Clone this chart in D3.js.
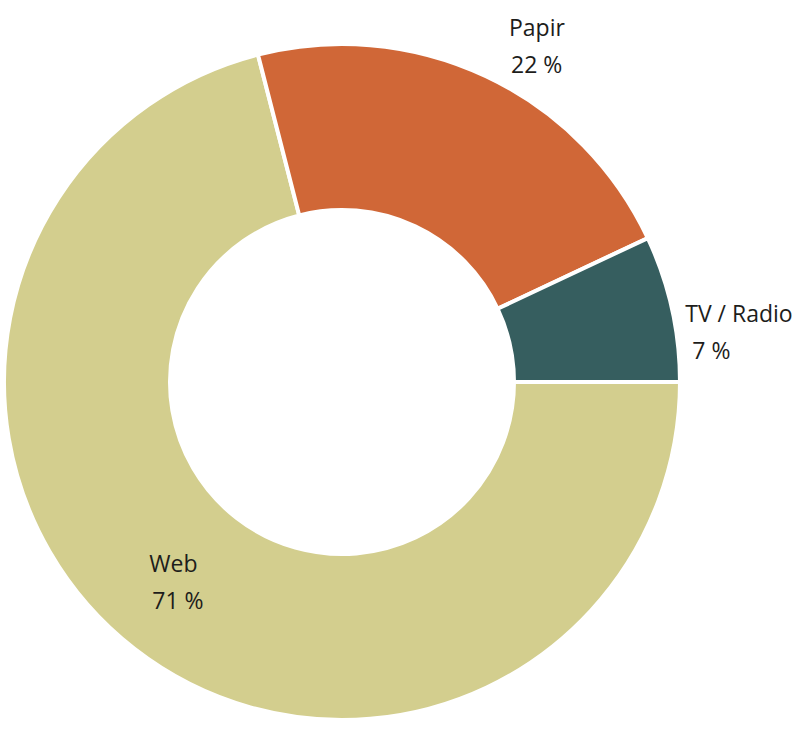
<!DOCTYPE html>
<html>
<head>
<meta charset="utf-8">
<script src="https://cdn.jsdelivr.net/npm/d3@7"></script>
<style>
  html, body { margin: 0; padding: 0; background: #fff; }
  svg { display: block; }
</style>
</head>
<body>
<svg id="chart" width="800" height="740"></svg>
<script>
const categories = ["Web", "Papir", "TV / Radio"];
const values = [71, 22, 7];
const valueLabels = ["71 %", "22 %", "7 %"];
const colors = ["#d3ce8e", "#d06737", "#365e5f"];

const svg = d3.select("#chart");
const cx = 342, cy = 382;
const outerR = 338, innerR = 172;

const data = categories.map((c, i) => ({ name: c, value: values[i], label: valueLabels[i], color: colors[i] }));

const pie = d3.pie().sort(null).value(d => d.value)
  .startAngle(Math.PI / 2).endAngle(Math.PI / 2 + 2 * Math.PI);
const arcs = pie(data);

const arc = d3.arc().innerRadius(innerR).outerRadius(outerR);

const g = svg.append("g").attr("transform", `translate(${cx},${cy})`);
g.selectAll("path").data(arcs).enter().append("path")
  .attr("d", arc)
  .attr("fill", d => d.data.color)
  .attr("stroke", "#fff")
  .attr("stroke-width", 4)
  .attr("stroke-linejoin", "miter");

// label placement around the arc mid-angle
const labelLayout = {
  "Web": { r: 262, da: 0.02, name: [-28, -14], val: [-25, 23] },
  "Papir": { r: 372, da: 0.09, name: [-21, -25], val: [-19, 12] },
  "TV / Radio": { r: 382, da: 0.1, name: [-36, -14], val: [-29, 23] }
};

const lg = svg.append("g").attr("transform", `translate(${cx},${cy})`);
arcs.forEach(a => {
  const L = labelLayout[a.data.name];
  const ang = (a.startAngle + a.endAngle) / 2 + L.da;
  const x = L.r * Math.sin(ang);
  const y = -L.r * Math.cos(ang);
  lg.append("text")
    .attr("x", x + L.name[0]).attr("y", y + L.name[1])
    .attr("font-family", "'Open Sans', sans-serif")
    .attr("font-size", 23).attr("fill", "#1d1d1b")
    .text(a.data.name);
  lg.append("text")
    .attr("x", x + L.val[0]).attr("y", y + L.val[1])
    .attr("font-family", "'Open Sans', sans-serif")
    .attr("font-size", 23).attr("fill", "#1d1d1b")
    .text(a.data.label);
});
</script>
</body>
</html>
